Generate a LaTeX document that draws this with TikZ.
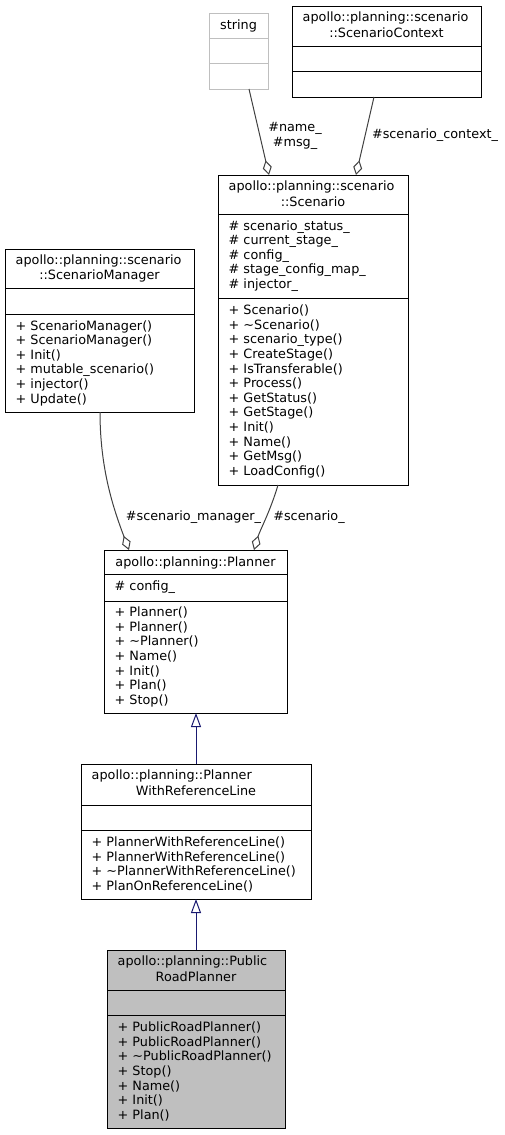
\documentclass[tikz,border=0pt]{standalone}
\usepackage{fontspec}
\setmainfont{DejaVu Sans}
\usepackage{xcolor}
\usetikzlibrary{arrows.meta}
\definecolor{edgegray}{HTML}{404040}
\definecolor{inhblue}{HTML}{191970}
\definecolor{boxgray}{HTML}{BFBFBF}
\tikzset{
  cls/.style={draw=black, line width=1pt, fill=white, inner sep=0pt, outer sep=0pt, anchor=north west},
  txt/.style={inner sep=0pt, font=\fontsize{12.8}{14.6}\selectfont, align=left},
  agg/.style={draw=edgegray, line width=1pt, -{Diamond[open, length=15pt, width=9pt]}},
  inh/.style={draw=inhblue, line width=1pt, -{Triangle[open, length=14pt, width=10pt]}},
}
\begin{document}
\begin{tikzpicture}[x=1pt,y=-1pt,line join=miter]
		\useasboundingbox (0,0) rectangle (505,1135);
		% class boxes
		\node[cls, draw=boxgray, minimum width=59pt, minimum height=76pt] (str) at (209,13) {};
		\node[cls, minimum width=189pt, minimum height=91pt] (ctx) at (292,6) {};
		\node[cls, minimum width=190pt, minimum height=310pt] (scn) at (218,175) {};
		\node[cls, minimum width=189pt, minimum height=163pt] (mgr) at (5,249) {};
		\node[cls, minimum width=183pt, minimum height=163pt] (planner) at (104,550) {};
		\node[cls, minimum width=230pt, minimum height=135pt] (pwrl) at (81,764) {};
		\node[cls, fill=boxgray, minimum width=178pt, minimum height=178pt] (prp) at (107,950) {};
		\foreach \y in {38,63}
		\draw[boxgray, line width=1pt] (209,\y) -- (268,\y);
		\foreach \l/\r/\y in {292/481/46, 292/481/71, 218/408/214, 218/408/298, 5/194/288, 5/194/314,
		  104/287/574, 104/287/601, 81/311/805, 81/311/830, 107/285/990, 107/285/1015}
		\draw[line width=1pt] (\l,\y) -- (\r,\y);
		% titles
		\node[txt] (strtitle) at (238.5,25.5) {string};
		\node[txt, anchor=west] (ctxtitle) at (302.5,18) {apollo::planning::scenario};
		\node[txt] (ctxtitleb) at (386.5,33) {::ScenarioContext};
		\node[txt, anchor=west] (scntitle) at (228.5,187) {apollo::planning::scenario};
		\node[txt] (scntitleb) at (313,202) {::Scenario};
		\node[txt, anchor=west] (mgrtitle) at (15.5,261) {apollo::planning::scenario};
		\node[txt] (mgrtitleb) at (99.5,276) {::ScenarioManager};
		\node[txt] (plannertitle) at (195.5,562.5) {apollo::planning::Planner};
		\node[txt, anchor=west] (pwrltitle) at (91.5,776) {apollo::planning::Planner};
		\node[txt] (pwrltitleb) at (196,791) {WithReferenceLine};
		\node[txt, anchor=west] (prptitle) at (117.5,962) {apollo::planning::Public};
		\node[txt] (prptitleb) at (196,977) {RoadPlanner};
		% members
		\node[txt, anchor=west] (scnattr) at (228.5,256) {\# scenario\_status\_\\\# current\_stage\_\\\# config\_\\\# stage\_config\_map\_\\\# injector\_};
		\node[txt, anchor=west] (scnops) at (228.5,391.5) {+ Scenario()\\+ \textasciitilde Scenario()\\+ scenario\_type()\\+ CreateStage()\\+ IsTransferable()\\+ Process()\\+ GetStatus()\\+ GetStage()\\+ Init()\\+ Name()\\+ GetMsg()\\+ LoadConfig()};
		\node[txt, anchor=west] (mgrops) at (15.5,363) {+ ScenarioManager()\\+ ScenarioManager()\\+ Init()\\+ mutable\_scenario()\\+ injector()\\+ Update()};
		\node[txt, anchor=west] (plannerattr) at (114.5,587.5) {\# config\_};
		\node[txt, anchor=west] (plannerops) at (114.5,657) {+ Planner()\\+ Planner()\\+ \textasciitilde Planner()\\+ Name()\\+ Init()\\+ Plan()\\+ Stop()};
		\node[txt, anchor=west] (pwrlops) at (91.5,864.5) {+ PlannerWithReferenceLine()\\+ PlannerWithReferenceLine()\\+ \textasciitilde PlannerWithReferenceLine()\\+ PlanOnReferenceLine()};
		\node[txt, anchor=west] (prpops) at (117.5,1071.5) {+ PublicRoadPlanner()\\+ PublicRoadPlanner()\\+ \textasciitilde PublicRoadPlanner()\\+ Stop()\\+ Name()\\+ Init()\\+ Plan()};
		% connectors
		\coordinate (strout) at (249,89);
		\coordinate (scnin1) at (269,175);
		\coordinate (ctxout) at (374,97);
		\coordinate (scnin2) at (356,175);
		\coordinate (mgrout) at (100,412);
		\coordinate (plannerin1) at (129,550);
		\coordinate (scnout) at (278,485);
		\coordinate (plannerin2) at (254,550);
		\draw[agg] (strout) -- (scnin1);
		\draw[agg] (ctxout) -- (scnin2);
		\draw[agg] (mgrout) .. controls (100,470) and (114,510) .. (plannerin1);
		\draw[agg] (scnout) .. controls (270,512) and (260,530) .. (plannerin2);
		\draw[inh] (pwrl.north) -- (pwrl.north |- planner.south);
		\draw[inh] (prp.north) -- (prp.north |- pwrl.south);
		% edge labels
		\node[txt] (lblname) at (295,128) {\#name\_};
		\node[txt] (lblmsg) at (295,143) {\#msg\_};
		\node[txt] (lblctx) at (435,135) {\#scenario\_context\_};
		\node[txt] (lblmgr) at (193.5,517) {\#scenario\_manager\_};
		\node[txt] (lblscn) at (309,517) {\#scenario\_};
\end{tikzpicture}
\end{document}
